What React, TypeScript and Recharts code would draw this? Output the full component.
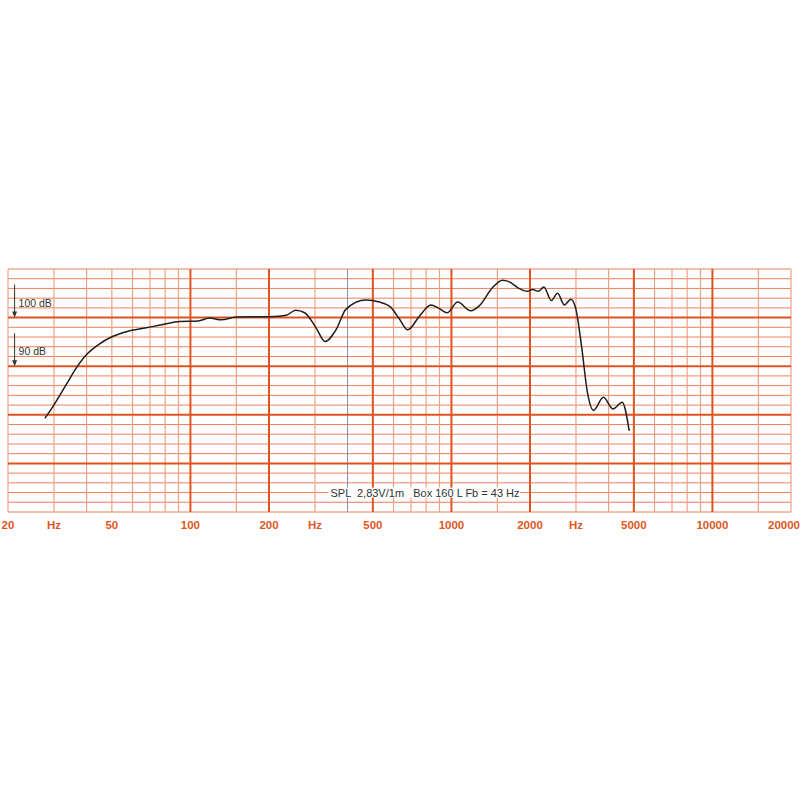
import React from 'react';
import { LineChart, Line, XAxis, YAxis, ReferenceLine, ReferenceDot } from 'recharts';

// measured response (Hz / dB SPL)
const FREQ = [27.7, 29.8, 33.5, 36.6, 40, 44.3, 49.8, 56.8, 67.8, 78.5, 90.8, 107, 118.6, 131, 150, 200, 233, 253, 274, 303, 328, 362, 394, 470, 530, 586, 632, 680, 754, 834, 896, 964, 1056, 1186, 1278, 1438, 1568, 1660, 1814, 1956, 2044, 2152, 2260, 2414, 2550, 2710, 2870, 3000, 3150, 3320, 3500, 3820, 4160, 4510, 4800];
const SPL = [79.3, 81.8, 86.3, 89.7, 92.4, 94.4, 96.0, 97.1, 97.9, 98.6, 99.2, 99.3, 99.9, 99.55, 100.1, 100.2, 100.5, 101.5, 101.0, 97.9, 95.1, 97.6, 101.7, 103.6, 103.2, 102.1, 99.7, 97.5, 100.3, 102.6, 101.9, 101.0, 103.2, 101.4, 102.4, 106.2, 107.7, 107.4, 106.0, 105.4, 105.8, 105.4, 106.3, 103.5, 105.0, 102.6, 103.8, 101.7, 94.2, 84.6, 80.9, 83.6, 81.2, 82.6, 76.7];

// grid
const THIN_FREQS = [20, 30, 40, 50, 60, 70, 80, 90, 150, 300, 600, 700, 800, 900, 1500, 3000, 4000, 6000, 7000, 8000, 9000, 15000, 20000];
const THICK_FREQS = [100, 200, 500, 1000, 2000, 5000, 10000];
const MARKER_FREQ = 400;
const THIN_DB = [62, 66, 68, 72, 74, 76, 78, 82, 84, 86, 88, 92, 94, 96, 98, 102, 104, 106, 108, 60, 110];
const THICK_DB = [70, 80, 90, 100];
const SPLIT_DB = 64;

// axis labels
const TICK_FREQS = [20, 30, 50, 100, 200, 300, 500, 1000, 2000, 3000, 5000, 10000, 20000];
const TICK_LABELS: Record<number, string> = {
  20: '20', 30: 'Hz', 50: '50', 100: '100', 200: '200', 300: 'Hz', 500: '500',
  1000: '1000', 2000: '2000', 3000: 'Hz', 5000: '5000', 10000: '10000', 20000: '20000'
};

const NOTE = 'SPL  2,83V/1m   Box 160 L Fb = 43 Hz';

const data = FREQ.map((f, i) => ({ f, spl: SPL[i] }));

const THICK = '#e0531f';
const THIN_H = '#ec8258';
const THIN_V = '#efa283';
const TEXT = '#333';
const FONT = 'Liberation Sans, Arial, sans-serif';

const FreqTick = ({ x, y, payload }: any) => {
  const last = payload.value === 20000;
  return (
    <text
      x={last ? 800 : x}
      y={y + 17}
      textAnchor={last ? 'end' : 'middle'}
      fill="#e0561e"
      fontSize={11.5}
      fontWeight="bold"
      fontFamily={FONT}
    >
      {TICK_LABELS[payload.value]}
    </text>
  );
};

const DbMark = ({ cx, cy, label }: any) => (
  <g>
    <line x1={cx} y1={cy - 33} x2={cx} y2={cy - 3} stroke={TEXT} strokeWidth={1} />
    <path d={`M${cx - 2.5},${cy - 6} L${cx + 2.5},${cy - 6} L${cx},${cy} Z`} fill={TEXT} />
    <text x={cx + 4} y={cy - 11} fontSize={10.5} fill={TEXT} fontFamily={FONT}>
      {label}
    </text>
  </g>
);

// note label sits on the 64 dB line, with a white box behind it
const NoteLabel = ({ viewBox }: any) => {
  const cx = 425;
  const cy = viewBox.y;
  return (
    <g>
      <rect x={cx - 93} y={cy - 5} width={186} height={10} fill="#fff" />
      <text
        x={cx}
        y={cy + 4}
        textAnchor="middle"
        fontSize={11}
        fill={TEXT}
        fontFamily={FONT}
        style={{ whiteSpace: 'pre' }}
      >
        {NOTE}
      </text>
    </g>
  );
};

export default function App() {
  return (
    <div style={{ position: 'absolute', left: 0, top: 0, width: 800, height: 800, background: '#fff' }}>
      <LineChart width={800} height={800} data={data} margin={{ top: 269, right: 9, bottom: 258, left: 8 }}>
        <XAxis
          dataKey="f"
          type="number"
          scale="log"
          domain={[20, 20000]}
          ticks={TICK_FREQS}
          tick={<FreqTick />}
          axisLine={false}
          tickLine={false}
          tickSize={0}
          tickMargin={0}
          height={30}
          allowDataOverflow
          interval={0}
        />
        <YAxis type="number" domain={[60, 110]} hide allowDataOverflow />
        {THIN_DB.map((d) => (
          <ReferenceLine key={'h' + d} y={d} stroke={THIN_H} strokeWidth={1} />
        ))}
        <ReferenceLine segment={[{ x: 20, y: SPLIT_DB }, { x: 338, y: SPLIT_DB }]} stroke={THIN_H} strokeWidth={1} />
        <ReferenceLine segment={[{ x: 1830, y: SPLIT_DB }, { x: 20000, y: SPLIT_DB }]} stroke={THIN_H} strokeWidth={1} />
        {THIN_FREQS.map((f) => (
          <ReferenceLine key={'v' + f} x={f} stroke={THIN_V} strokeWidth={1.2} />
        ))}
        <ReferenceLine x={MARKER_FREQ} stroke="#8391a8" strokeWidth={1} />
        {THICK_DB.map((d) => (
          <ReferenceLine key={'H' + d} y={d} stroke={THICK} strokeWidth={2} />
        ))}
        {THICK_FREQS.map((f) => (
          <ReferenceLine key={'V' + f} x={f} stroke={THICK} strokeWidth={2} />
        ))}
        <ReferenceLine y={SPLIT_DB} stroke="none" label={<NoteLabel />} />
        <ReferenceDot x={21.2} y={100} r={0} ifOverflow="visible" shape={(p: any) => <DbMark {...p} label="100 dB" />} />
        <ReferenceDot x={21.2} y={90} r={0} ifOverflow="visible" shape={(p: any) => <DbMark {...p} label="90 dB" />} />
        <Line
          type="monotone"
          dataKey="spl"
          stroke="#1e1e1e"
          strokeWidth={1.5}
          dot={false}
          isAnimationActive={false}
        />
      </LineChart>
    </div>
  );
}
